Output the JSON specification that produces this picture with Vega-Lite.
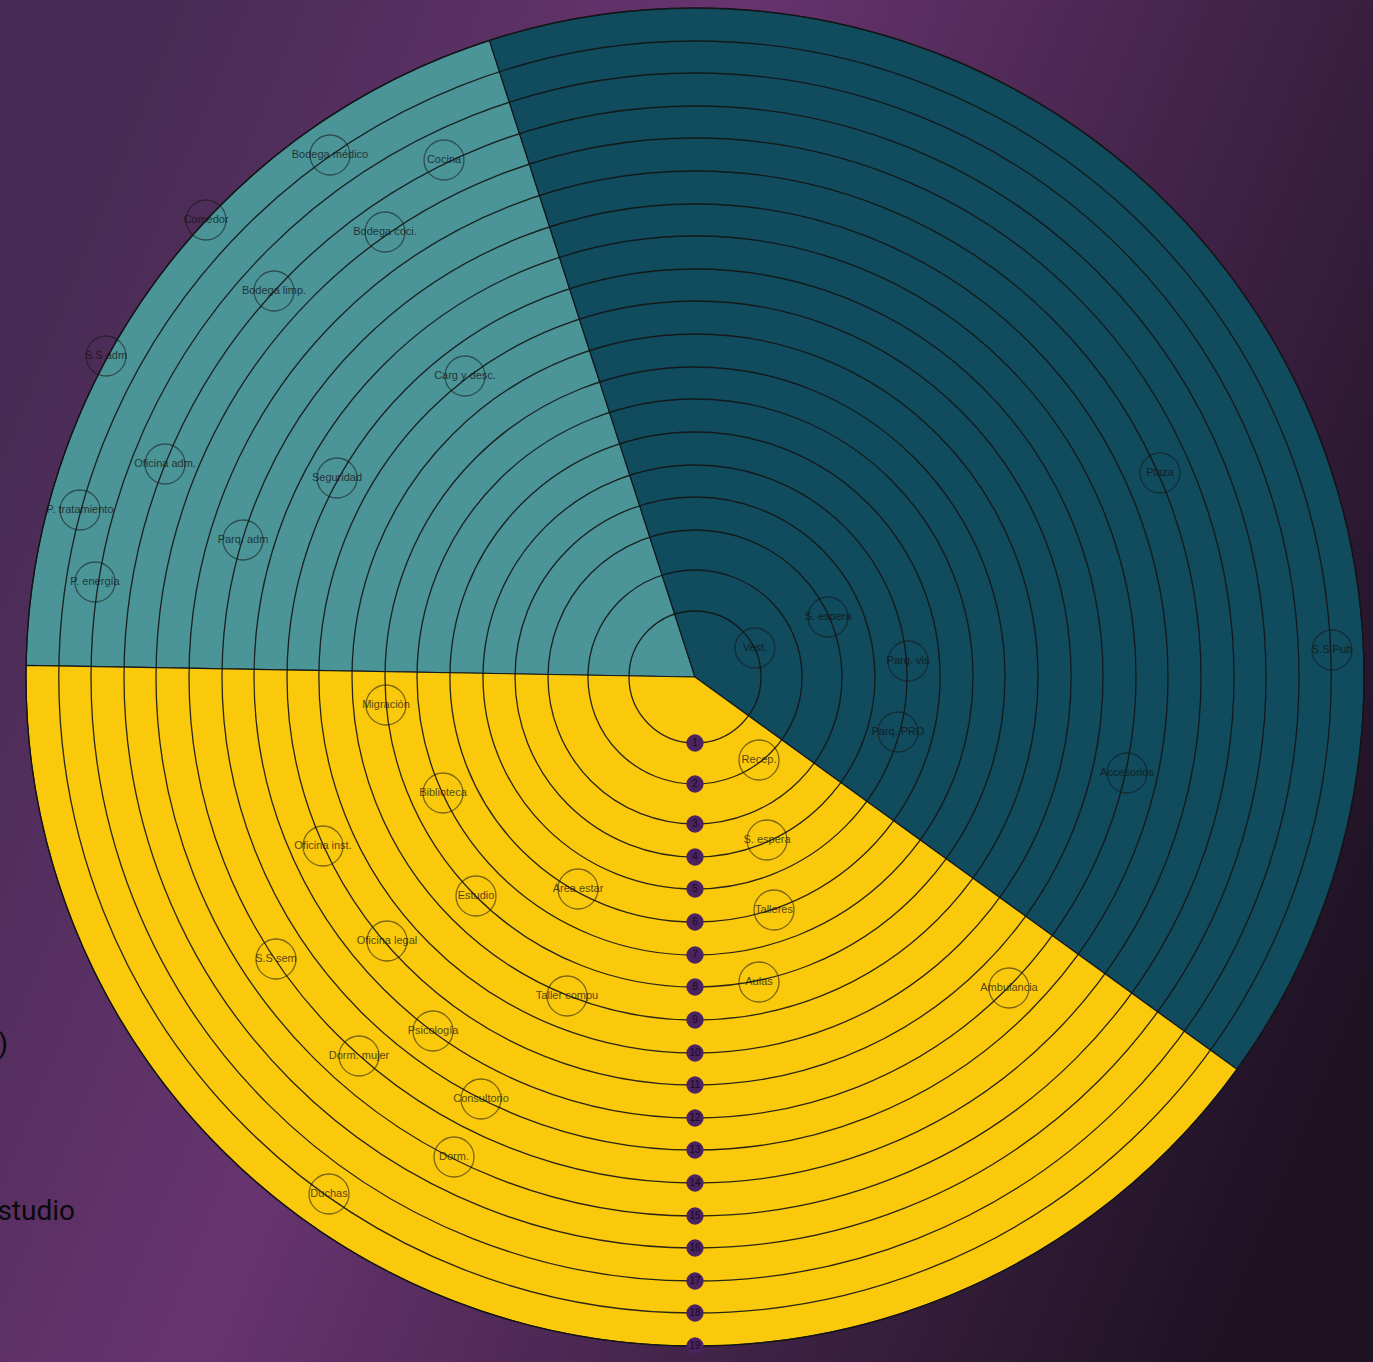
{
  "$schema": "https://vega.github.io/schema/vega-lite/v6.json",
  "width": 1373,
  "height": 1362,
  "autosize": {"type": "none"},
  "padding": 0,
  "background": "#4a2b55",
  "config": {"view": {"stroke": null}},
  "datasets": {
    "fondo": [{"nombre": "fondo"}],
    "sectores": [
      {"sector": "Administración", "inicio": 271.0, "fin": 342.1, "radio": 669},
      {"sector": "Público", "inicio": -17.9, "fin": 125.9, "radio": 669},
      {"sector": "Comunitario", "inicio": 125.9, "fin": 271.0, "radio": 669}
    ],
    "anillos": [
      {"anillo": 1, "radio": 66}, {"anillo": 2, "radio": 107}, {"anillo": 3, "radio": 147},
      {"anillo": 4, "radio": 180}, {"anillo": 5, "radio": 212}, {"anillo": 6, "radio": 245},
      {"anillo": 7, "radio": 278}, {"anillo": 8, "radio": 310}, {"anillo": 9, "radio": 343},
      {"anillo": 10, "radio": 376}, {"anillo": 11, "radio": 408}, {"anillo": 12, "radio": 441},
      {"anillo": 13, "radio": 473}, {"anillo": 14, "radio": 506}, {"anillo": 15, "radio": 539},
      {"anillo": 16, "radio": 571}, {"anillo": 17, "radio": 604}, {"anillo": 18, "radio": 636},
      {"anillo": 19, "radio": 669}
    ],
    "niveles": [
      {"nivel": "1", "x": 0, "y": -66}, {"nivel": "2", "x": 0, "y": -107}, {"nivel": "3", "x": 0, "y": -147},
      {"nivel": "4", "x": 0, "y": -180}, {"nivel": "5", "x": 0, "y": -212}, {"nivel": "6", "x": 0, "y": -245},
      {"nivel": "7", "x": 0, "y": -278}, {"nivel": "8", "x": 0, "y": -310}, {"nivel": "9", "x": 0, "y": -343},
      {"nivel": "10", "x": 0, "y": -376}, {"nivel": "11", "x": 0, "y": -408}, {"nivel": "12", "x": 0, "y": -441},
      {"nivel": "13", "x": 0, "y": -473}, {"nivel": "14", "x": 0, "y": -506}, {"nivel": "15", "x": 0, "y": -539},
      {"nivel": "16", "x": 0, "y": -571}, {"nivel": "17", "x": 0, "y": -604}, {"nivel": "18", "x": 0, "y": -636},
      {"nivel": "19", "x": 0, "y": -669}
    ],
    "espacios": [
      {"nombre": "Bodega médico", "x": -365, "y": 522},
      {"nombre": "Cocina", "x": -251, "y": 517},
      {"nombre": "Comedor", "x": -489, "y": 457},
      {"nombre": "Bodega coci.", "x": -310, "y": 445},
      {"nombre": "Bodega limp.", "x": -421, "y": 386},
      {"nombre": "S.S adm", "x": -589, "y": 321},
      {"nombre": "Carg y desc.", "x": -230, "y": 301},
      {"nombre": "Oficina adm.", "x": -530, "y": 213},
      {"nombre": "Seguridad", "x": -358, "y": 199},
      {"nombre": "P. tratamiento", "x": -615, "y": 167},
      {"nombre": "Parq. adm", "x": -452, "y": 137},
      {"nombre": "P. energía", "x": -600, "y": 95},
      {"nombre": "Vest.", "x": 60, "y": 29},
      {"nombre": "S. espera", "x": 133, "y": 60},
      {"nombre": "Parq. vis", "x": 213, "y": 16},
      {"nombre": "Parq. PRO", "x": 203, "y": -55},
      {"nombre": "Plaza", "x": 465, "y": 204},
      {"nombre": "S.S Pub", "x": 637, "y": 27},
      {"nombre": "Accesorios", "x": 432, "y": -96},
      {"nombre": "Recep.", "x": 64, "y": -83},
      {"nombre": "S. espera", "x": 72, "y": -163},
      {"nombre": "Talleres", "x": 79, "y": -233},
      {"nombre": "Aulas", "x": 64, "y": -305},
      {"nombre": "Ambulancia", "x": 314, "y": -311},
      {"nombre": "Migración", "x": -309, "y": -28},
      {"nombre": "Biblioteca", "x": -252, "y": -116},
      {"nombre": "Oficina inst.", "x": -372, "y": -169},
      {"nombre": "Estudio", "x": -219, "y": -219},
      {"nombre": "Área estar", "x": -117, "y": -212},
      {"nombre": "Oficina legal", "x": -308, "y": -264},
      {"nombre": "S.S sem", "x": -419, "y": -282},
      {"nombre": "Taller compu", "x": -128, "y": -319},
      {"nombre": "Psicología", "x": -262, "y": -354},
      {"nombre": "Dorm. mujer", "x": -336, "y": -379},
      {"nombre": "Consultorio", "x": -214, "y": -422},
      {"nombre": "Dorm.", "x": -241, "y": -480},
      {"nombre": "Duchas", "x": -366, "y": -517}
    ],
    "leyenda": [
      {"texto": ")", "x": -687, "y": -368},
      {"texto": "Estudio", "x": -620, "y": -535}
    ]
  },
  "layer": [
    {
      "data": {"name": "fondo"},
      "mark": {
        "type": "rect",
        "fill": {
          "gradient": "linear", "x1": 0, "y1": 0.3, "x2": 1, "y2": 0.7,
          "stops": [
            {"offset": 0, "color": "#482b54"},
            {"offset": 0.36, "color": "#67346f"},
            {"offset": 1, "color": "#1e1223"}
          ]
        }
      },
      "encoding": {
        "x": {"datum": -695, "type": "quantitative", "scale": {"domain": [-695, 678], "nice": false, "zero": false}, "axis": null},
        "x2": {"datum": 678},
        "y": {"datum": -685, "type": "quantitative", "scale": {"domain": [-685, 677], "nice": false, "zero": false}, "axis": null},
        "y2": {"datum": 677}
      }
    },
    {
      "data": {"name": "sectores"},
      "mark": {"type": "arc", "stroke": "#14191b", "strokeWidth": 1.2},
      "encoding": {
        "x": {"datum": 0, "type": "quantitative", "scale": {"domain": [-695, 678], "nice": false, "zero": false}, "axis": null},
        "y": {"datum": 0, "type": "quantitative", "scale": {"domain": [-685, 677], "nice": false, "zero": false}, "axis": null},
        "theta": {"field": "inicio", "type": "quantitative", "stack": null, "scale": {"domain": [0, 360], "range": [0, 6.283185307179586]}},
        "theta2": {"field": "fin"},
        "radius": {"field": "radio", "type": "quantitative", "stack": null, "scale": {"type": "linear", "domain": [0, 669], "range": [0, 669], "zero": true, "nice": false}},
        "color": {"field": "sector", "type": "nominal", "legend": null, "scale": {"domain": ["Administración", "Público", "Comunitario"], "range": ["#4b9497", "#104b5e", "#fbc90b"]}}
      }
    },
    {
      "data": {"name": "anillos"},
      "mark": {"type": "arc", "fill": null, "filled": false, "stroke": "#141414", "strokeWidth": 1.3, "strokeOpacity": 0.9},
      "encoding": {
        "x": {"datum": 0, "type": "quantitative", "scale": {"domain": [-695, 678], "nice": false, "zero": false}, "axis": null},
        "y": {"datum": 0, "type": "quantitative", "scale": {"domain": [-685, 677], "nice": false, "zero": false}, "axis": null},
        "theta": {"datum": 0, "type": "quantitative", "stack": null, "scale": {"domain": [0, 360], "range": [0, 6.283185307179586]}},
        "theta2": {"datum": 360},
        "radius": {"field": "radio", "type": "quantitative", "stack": null, "scale": {"type": "linear", "domain": [0, 669], "range": [0, 669], "zero": true, "nice": false}}
      }
    },
    {
      "data": {"name": "espacios"},
      "mark": {"type": "point", "shape": "circle", "size": 1600, "filled": false, "stroke": "#161616", "strokeWidth": 1.3, "strokeOpacity": 0.8},
      "encoding": {
        "x": {"field": "x", "type": "quantitative", "scale": {"domain": [-695, 678], "nice": false, "zero": false}, "axis": null},
        "y": {"field": "y", "type": "quantitative", "scale": {"domain": [-685, 677], "nice": false, "zero": false}, "axis": null}
      }
    },
    {
      "data": {"name": "espacios"},
      "mark": {"type": "text", "font": "Liberation Sans", "fontSize": 11, "fill": "#111111", "opacity": 0.72, "align": "center", "baseline": "middle"},
      "encoding": {
        "x": {"field": "x", "type": "quantitative", "scale": {"domain": [-695, 678], "nice": false, "zero": false}, "axis": null},
        "y": {"field": "y", "type": "quantitative", "scale": {"domain": [-685, 677], "nice": false, "zero": false}, "axis": null},
        "text": {"field": "nombre"}
      }
    },
    {
      "data": {"name": "niveles"},
      "mark": {"type": "point", "shape": "circle", "size": 300, "filled": true, "fill": "#4a235f", "opacity": 1, "strokeWidth": 0},
      "encoding": {
        "x": {"field": "x", "type": "quantitative", "scale": {"domain": [-695, 678], "nice": false, "zero": false}, "axis": null},
        "y": {"field": "y", "type": "quantitative", "scale": {"domain": [-685, 677], "nice": false, "zero": false}, "axis": null}
      }
    },
    {
      "data": {"name": "niveles"},
      "mark": {"type": "text", "font": "Liberation Sans", "fontSize": 10, "fill": "#1a0b24", "align": "center", "baseline": "middle"},
      "encoding": {
        "x": {"field": "x", "type": "quantitative", "scale": {"domain": [-695, 678], "nice": false, "zero": false}, "axis": null},
        "y": {"field": "y", "type": "quantitative", "scale": {"domain": [-685, 677], "nice": false, "zero": false}, "axis": null},
        "text": {"field": "nivel"}
      }
    },
    {
      "data": {"name": "leyenda"},
      "mark": {"type": "text", "font": "Roboto", "fontSize": 28, "fill": "#0a0a0a", "align": "right", "baseline": "middle"},
      "encoding": {
        "x": {"field": "x", "type": "quantitative", "scale": {"domain": [-695, 678], "nice": false, "zero": false}, "axis": null},
        "y": {"field": "y", "type": "quantitative", "scale": {"domain": [-685, 677], "nice": false, "zero": false}, "axis": null},
        "text": {"field": "texto"}
      }
    }
  ]
}
